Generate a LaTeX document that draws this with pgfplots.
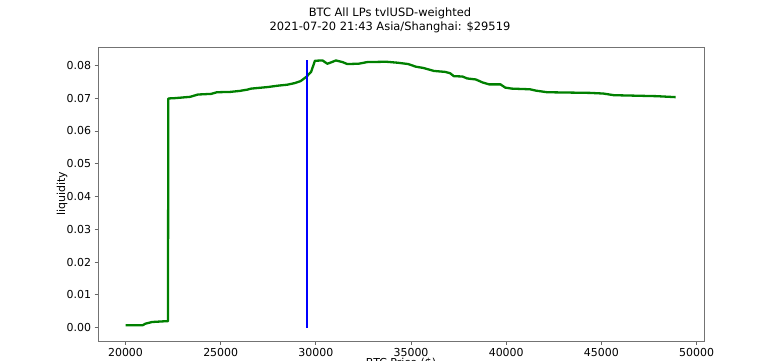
\documentclass[border=0pt]{standalone}
\usepackage{pgfplots}
\pgfplotsset{compat=1.18}
\usepackage{fontspec}
\setmainfont{DejaVu Sans}
\definecolor{mgreen}{HTML}{008000}
\definecolor{mblue}{HTML}{0000FF}
\begin{document}
\begin{tikzpicture}[x=1bp,y=1bp]
\clip (0,0) rectangle (780,360);
\fill[white] (0,0) rectangle (780,360);
\node[align=center,font=\fontsize{11.5}{14}\selectfont,anchor=north] at (390,356) {BTC All LPs tvlUSD-weighted\\2021-07-20 21:43 Asia/Shanghai: \$29519};
\begin{axis}[
  at={(98bp,19bp)}, anchor=south west,
  scale only axis, width=606bp, height=294bp,
  xmin=18555, xmax=50390, ymin=-0.0041, ymax=0.0856,
  xtick={20000,25000,30000,35000,40000,45000,50000},
  ytick={0,0.01,0.02,0.03,0.04,0.05,0.06,0.07,0.08},
  scaled ticks=false,
  xticklabel style={/pgf/number format/set thousands separator={}},
  yticklabel style={/pgf/number format/fixed,/pgf/number format/fixed zerofill,/pgf/number format/precision=2},
  /pgf/number format/assume math mode=true,
  tick label style={font=\fontsize{11}{13}\selectfont},
  label style={font=\fontsize{11}{13}\selectfont},
  xtick pos=bottom, ytick pos=left, tick align=outside,
  major tick length=3.5bp,
  every tick/.style={black!60, line width=0.8bp},
  axis line style={black!55, line width=0.8bp},
  xlabel={BTC Price (\$)},
  ylabel={liquidity},
  xlabel style={at={(axis description cs:0.5,0)}, anchor=north, yshift=-14bp},
  ylabel style={at={(axis description cs:-0.0594,0.5)}, anchor=center},
  clip=false,
]
\addplot[mgreen, line width=2.3bp, line join=round] coordinates {
(20000,0.0007) (20900,0.0007) (21050,0.0012) (21400,0.0017) (22000,0.0019)
(22230,0.0019) (22250,0.0699) (22600,0.0700) (23400,0.0704) (23800,0.0711)
(24500,0.0713) (24800,0.0718) (25500,0.0719) (26000,0.0722) (26400,0.0726)
(26600,0.0729) (27500,0.0734) (28000,0.0738) (28500,0.0741) (28900,0.0746)
(29200,0.0752) (29500,0.0765) (29750,0.0780) (29950,0.0814) (30350,0.0815)
(30600,0.0805) (30800,0.0809) (31050,0.0815) (31400,0.0810) (31650,0.0804)
(32250,0.0805) (32700,0.0810) (33700,0.0811) (34300,0.0808) (34850,0.0804)
(35250,0.0796) (35650,0.0792) (36200,0.0783) (36800,0.0780) (37050,0.0776)
(37250,0.0767) (37700,0.0766) (37950,0.0760) (38400,0.0757) (38750,0.0748)
(39100,0.0742) (39700,0.0742) (39950,0.0732) (40300,0.0729) (41250,0.0727)
(41550,0.0723) (42150,0.0718) (44400,0.0716) (45100,0.0714) (45650,0.0709)
(47900,0.0706) (48900,0.0703)
};
\addplot[mblue, line width=2.3bp] coordinates {(29519,0) (29519,0.0816)};
\end{axis}
\end{tikzpicture}
\end{document}
